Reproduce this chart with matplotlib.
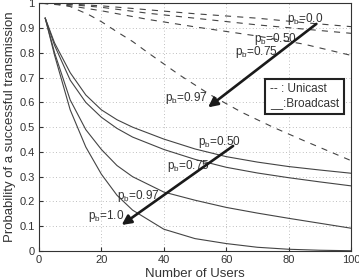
import matplotlib
matplotlib.use("Agg")
import matplotlib.pyplot as plt

plt.rcParams['font.family'] = ['Liberation Sans', 'DejaVu Sans']

# Broadcast (solid) curves
bx = [2, 5, 10, 15, 20, 25, 30, 40, 50, 60, 70, 80, 90, 100]
b_050 = [0.94, 0.84, 0.72, 0.63, 0.57, 0.53, 0.50, 0.452, 0.412, 0.381, 0.359, 0.341, 0.327, 0.314]
b_075 = [0.94, 0.83, 0.69, 0.60, 0.54, 0.495, 0.46, 0.410, 0.370, 0.338, 0.315, 0.296, 0.279, 0.263]
b_097 = [0.94, 0.80, 0.61, 0.49, 0.41, 0.345, 0.30, 0.238, 0.205, 0.176, 0.153, 0.132, 0.112, 0.092]
b_100 = [0.94, 0.79, 0.57, 0.42, 0.31, 0.225, 0.165, 0.088, 0.050, 0.030, 0.015, 0.007, 0.003, 0.001]

# Unicast (dashed) curves
ux = [1, 10, 20, 35, 50, 70, 85, 100]
u_000 = [1.0, 0.997, 0.99, 0.974, 0.958, 0.940, 0.922, 0.906]
u_050 = [1.0, 0.995, 0.984, 0.960, 0.940, 0.913, 0.896, 0.879]
u_075 = [1.0, 0.99, 0.97, 0.935, 0.905, 0.868, 0.835, 0.79]
ux97 = [1, 5, 10, 16, 20, 25, 30, 35, 45, 55, 65, 75, 85, 100]
u_097 = [1.0, 0.998, 0.987, 0.954, 0.926, 0.885, 0.846, 0.80, 0.711, 0.63, 0.56, 0.50, 0.445, 0.365]

xticks = [0, 20, 40, 60, 80, 100]
yticks = [0, 0.1, 0.2, 0.3, 0.4, 0.5, 0.6, 0.7, 0.8, 0.9, 1.0]
yticklabels = ['0', '0.1', '0.2', '0.3', '0.4', '0.5', '0.6', '0.7', '0.8', '0.9', '1']

fig = plt.figure(figsize=(3.59, 2.79), dpi=100)
ax = fig.add_axes([0.1086, 0.1004, 0.8691, 0.8876])

lc = '#444444'
for ys in (b_050, b_075, b_097, b_100):
    ax.plot(bx, ys, color=lc, lw=0.8)
for ys in (u_000, u_050, u_075):
    ax.plot(ux, ys, color=lc, lw=0.8, linestyle=(0, (5.5, 5.5)))
ax.plot(ux97, u_097, color=lc, lw=0.8, linestyle=(0, (5.5, 5.5)))

ax.set_xlim(0, 100)
ax.set_ylim(0, 1)
ax.set_xticks(xticks)
ax.set_yticks(yticks)
ax.set_yticklabels(yticklabels)
ax.tick_params(direction='in', labelsize=8, length=3, colors='#333333', pad=3)
ax.grid(True, linestyle=(0, (1, 3)), color='#aaaaaa', lw=0.6)
for s in ax.spines.values():
    s.set_color('#333333')
    s.set_linewidth(0.8)

ax.set_xlabel('Number of Users', fontsize=9.5, color='#333333')
ax.set_ylabel('Probability of a successful transmission', fontsize=9.5, color='#333333')
ax.xaxis.set_label_coords(0.5, -0.069)
ax.yaxis.set_label_coords(-0.074, 0.5)

fs = 8.5
tc = '#333333'
labels = [
    (79.4, 0.925, '0.0'),
    (69.0, 0.845, '0.50'),
    (62.7, 0.790, '0.75'),
    (40.3, 0.606, '0.97'),
    (51.0, 0.428, '0.50'),
    (41.0, 0.330, '0.75'),
    (25.0, 0.210, '0.97'),
    (15.7, 0.130, '1.0'),
]
for x, y, v in labels:
    ax.text(x, y, r'$\mathregular{p_b}$=' + v, fontsize=fs, color=tc, va='baseline', ha='left')

ap = dict(arrowstyle='-|>', lw=1.9, color='#1a1a1a', mutation_scale=14, shrinkA=0, shrinkB=0)
ax.annotate('', xy=(54.2, 0.58), xytext=(88.9, 0.917), arrowprops=ap)
ax.annotate('', xy=(26.5, 0.105), xytext=(62.2, 0.424), arrowprops=ap)

ax.text(74.0, 0.625, '-- : Unicast\n__:Broadcast', fontsize=8.5, color=tc, va='center', ha='left',
        linespacing=1.2,
        bbox=dict(boxstyle='square,pad=0.4', fc='white', ec='#222222', lw=1.5))

fig.savefig('out.png', dpi=100)
